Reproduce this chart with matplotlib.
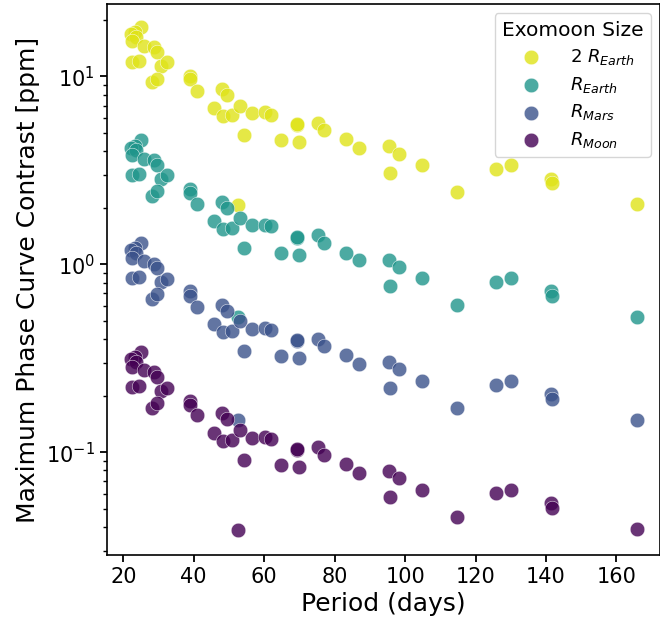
import matplotlib
matplotlib.use("Agg")
import matplotlib.pyplot as plt
import numpy as np

# Orbital periods of the host planets (days), shared by every moon size
period_days = [25.0, 23.2, 22.3, 23.7, 22.6, 26.0, 28.6, 29.6, 22.5, 24.5,
               30.6, 32.5, 28.2, 29.6, 39.0, 39.0, 41.0, 45.8, 48.0, 48.4,
               49.4, 50.9, 52.7, 53.1, 54.4, 56.6, 60.2, 61.9, 64.7, 69.4,
               69.4, 70.0, 75.2, 76.9, 83.1, 86.8, 95.4, 95.6, 98.4, 104.8,
               114.8, 125.9, 130.2, 141.3, 141.8, 165.7]

# Maximum phase curve contrast (ppm) for each moon size
contrast_2earth = [18.3, 17.2, 16.9, 16.2, 15.4, 14.5, 14.3, 13.5, 11.9, 12.1,
                   11.4, 11.9, 9.34, 9.72, 10.05, 9.64, 8.40, 6.79, 8.53, 6.12,
                   7.93, 6.20, 2.06, 7.00, 4.86, 6.38, 6.47, 6.26, 4.57, 5.53,
                   5.59, 4.48, 5.67, 5.19, 4.63, 4.18, 4.24, 3.08, 3.86, 3.36,
                   2.42, 3.22, 3.36, 2.86, 2.72, 2.10]
contrast_earth = [4.57, 4.26, 4.18, 4.04, 3.80, 3.65, 3.57, 3.39, 2.98, 3.03,
                  2.86, 2.98, 2.31, 2.45, 2.53, 2.40, 2.09, 1.70, 2.14, 1.54,
                  2.00, 1.56, 0.523, 1.76, 1.22, 1.61, 1.62, 1.59, 1.15, 1.38,
                  1.40, 1.12, 1.43, 1.30, 1.15, 1.05, 1.06, 0.771, 0.97, 0.845,
                  0.605, 0.805, 0.845, 0.718, 0.679, 0.525]
contrast_mars = [1.30, 1.22, 1.19, 1.15, 1.08, 1.04, 1.01, 0.96, 0.845, 0.86,
                 0.805, 0.835, 0.657, 0.692, 0.718, 0.679, 0.593, 0.48, 0.61, 0.435,
                 0.564, 0.44, 0.148, 0.498, 0.344, 0.451, 0.459, 0.446, 0.326, 0.392,
                 0.398, 0.318, 0.403, 0.369, 0.328, 0.295, 0.303, 0.219, 0.276, 0.240,
                 0.172, 0.229, 0.240, 0.203, 0.193, 0.149]
contrast_moon = [0.342, 0.322, 0.315, 0.303, 0.285, 0.273, 0.266, 0.252, 0.223, 0.226,
                 0.211, 0.221, 0.173, 0.182, 0.188, 0.179, 0.157, 0.127, 0.161, 0.115,
                 0.150, 0.116, 0.0388, 0.131, 0.0906, 0.119, 0.121, 0.117, 0.0854, 0.103,
                 0.104, 0.0836, 0.107, 0.0972, 0.0864, 0.0780, 0.0797, 0.0577, 0.0726, 0.0631,
                 0.0454, 0.0604, 0.0631, 0.0534, 0.0508, 0.0393]

labels = [r"$2\ R_{Earth}$", r"$R_{Earth}$", r"$R_{Mars}$", r"$R_{Moon}$"]
series = [contrast_2earth, contrast_earth, contrast_mars, contrast_moon]
colors = [plt.cm.viridis(v) for v in (0.95, 0.52, 0.25, 0.0)]

fig = plt.figure(figsize=(6.6, 6.28), dpi=100)
ax = fig.add_axes([0.1617, 0.1162, 0.838, 0.877])

for vals, lab, col in zip(series, labels, colors):
    ax.scatter(period_days, vals, s=110, color=col, alpha=0.8,
               edgecolor="white", linewidth=0.4, label=lab)

ax.set_yscale("log")
ax.set_xlim(15.3, 172.3)
ax.set_ylim(0.0284, 24.2)
ax.set_xticks(np.arange(20, 161, 20))

ax.tick_params(axis="both", which="major", labelsize=15, length=5, width=1.3)
ax.tick_params(axis="y", which="minor", length=3, width=1.0)
for sp in ax.spines.values():
    sp.set_linewidth(1.2)

ax.set_xlabel("Period (days)", fontsize=18)
ax.set_ylabel("Maximum Phase Curve Contrast [ppm]", fontsize=18)

leg = ax.legend(title="Exomoon Size", loc="upper right", fontsize=13,
                title_fontsize=14.5, labelspacing=0.42, borderpad=0.4,
                handletextpad=1.0, handlelength=2.3)

fig.savefig("out.png", dpi=100)
